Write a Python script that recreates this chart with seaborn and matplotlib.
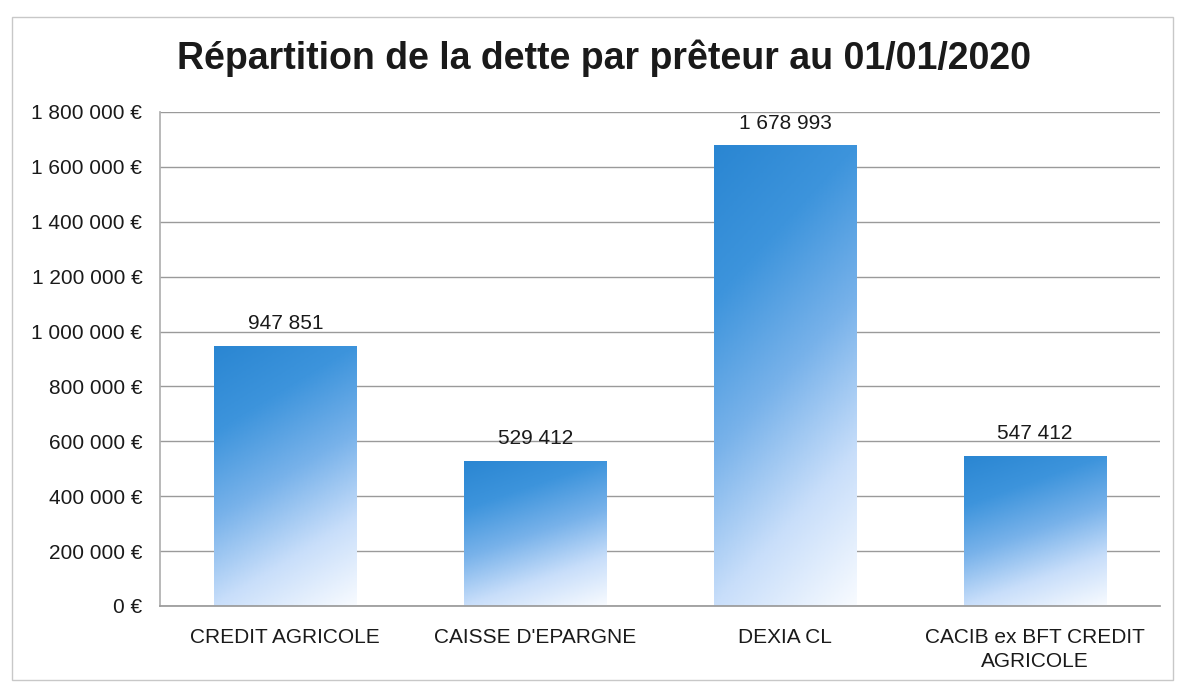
import numpy as np
import pandas as pd
import matplotlib
matplotlib.use("Agg")
import matplotlib.pyplot as plt
import seaborn as sns
from matplotlib.colors import LinearSegmentedColormap
from matplotlib.patches import Rectangle
from matplotlib.ticker import FuncFormatter

# ── Data ──────────────────────────────────────────────────────────────────────
lenders = ["CREDIT AGRICOLE", "CAISSE D'EPARGNE", "DEXIA CL", "CACIB ex BFT CREDIT\nAGRICOLE"]
amounts = [947851, 529412, 1678993, 547412]
y_ticks = [0, 200000, 400000, 600000, 800000, 1000000, 1200000, 1400000, 1600000, 1800000]
title = "Répartition de la dette par prêteur au 01/01/2020"


def fmt_space(v):
    return f"{int(round(v)):,}".replace(",", " ")


# ── Plot ──────────────────────────────────────────────────────────────────────
sns.set_theme(style="white")
plt.rcParams["font.family"] = ["Liberation Sans", "DejaVu Sans"]

fig = plt.figure(figsize=(11.79, 6.87), dpi=100)
ax = fig.add_axes([0.136, 0.118, 0.848, 0.719])

df = pd.DataFrame({"lender": lenders, "amount": amounts})
sns.barplot(data=df, x="lender", y="amount", width=0.57, color="#3a90d8", ax=ax)

ax.set_yticks(y_ticks)
ax.yaxis.set_major_formatter(FuncFormatter(lambda v, _: f"{fmt_space(v)} €"))
ax.tick_params(axis="y", labelsize=15, colors="#1a1a1a", pad=13, length=0)
ax.tick_params(axis="x", labelsize=15, colors="#1a1a1a", pad=16, length=0)
for lbl in ax.get_xticklabels():
    lbl.set_linespacing(1.35)
ax.set_xlabel("")
ax.set_ylabel("")

ax.grid(axis="y", color="#9a9a9a", lw=1)
ax.set_axisbelow(True)
for side in ["top", "right"]:
    ax.spines[side].set_visible(False)
ax.spines["left"].set_color("#b0b0b0")
ax.spines["bottom"].set_color("#9a9a9a")

# gradient fill: blue at top-left fading to white at bottom-right
cmap = LinearSegmentedColormap.from_list(
    "grad", ["#2a86d2", "#3d94dc", "#78b2ea", "#c8defa", "#f8fbff"])
gy, gx = np.mgrid[0:1:200j, 0:1:100j]
grad = 0.75 * gy + 0.25 * gx
for bar in ax.patches:
    x0, y0 = bar.get_x(), bar.get_y()
    w, h = bar.get_width(), bar.get_height()
    im = ax.imshow(grad, cmap=cmap, aspect="auto", origin="upper",
                   extent=[x0, x0 + w, y0, y0 + h], zorder=2, vmin=0, vmax=1)
    im.set_clip_path(bar)
    bar.set_facecolor("none")
    bar.set_edgecolor("none")
ax.set_xlim(-0.5, len(lenders) - 0.5)
ax.set_ylim(0, 1800000)

ax.bar_label(ax.containers[0], labels=[fmt_space(v) for v in amounts],
             padding=9, fontsize=15, color="#1a1a1a")

fig.text(0.512, 0.915, title, ha="center", va="center",
         fontsize=27, fontweight="bold", color="#1a1a1a")

# outer chart frame
fig.patches.append(Rectangle((0.01, 0.01), 0.985, 0.965, transform=fig.transFigure,
                             fill=False, edgecolor="#c8c8c8", lw=1))

plt.savefig("out.png", dpi=100)
plt.close()
